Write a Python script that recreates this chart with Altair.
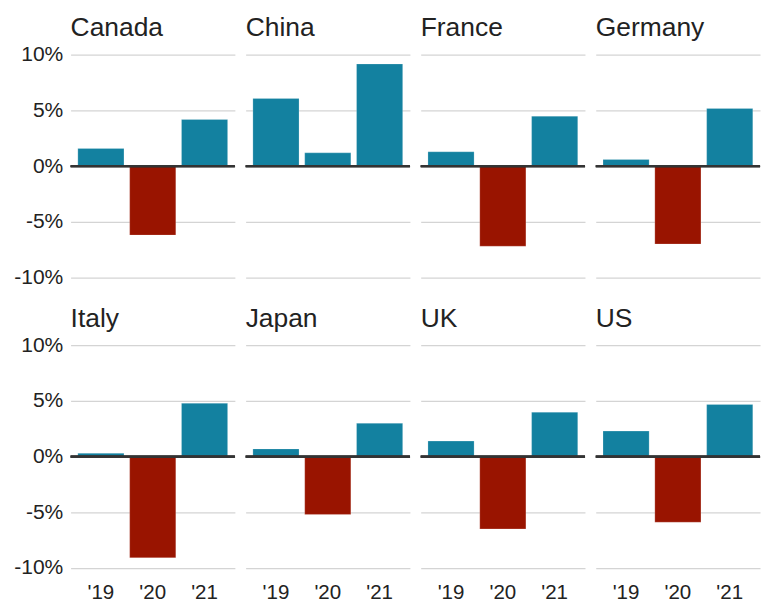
import altair as alt
import pandas as pd

countries = ["Canada", "China", "France", "Germany", "Italy", "Japan", "UK", "US"]
years = ["'19", "'20", "'21"]
canada = [1.6, -6.2, 4.2]
china = [6.1, 1.2, 9.2]
france = [1.3, -7.2, 4.5]
germany = [0.6, -7.0, 5.2]
italy = [0.3, -9.1, 4.8]
japan = [0.7, -5.2, 3.0]
uk = [1.4, -6.5, 4.0]
us = [2.3, -5.9, 4.7]

series = [canada, china, france, germany, italy, japan, uk, us]
rows = []
for c, vals in zip(countries, series):
    for y, v in zip(years, vals):
        rows.append({"country": c, "year": y, "growth": v})
df = pd.DataFrame(rows)

BLUE = "#1381a0"
RED = "#991400"

bars = alt.Chart().mark_bar(stroke="white", strokeWidth=0.6, strokeOpacity=0.35).encode(
    x=alt.X("year:N", sort=years,
            scale=alt.Scale(paddingInner=0.11, paddingOuter=0.14),
            axis=alt.Axis(title=None, labelAngle=0, domain=False, ticks=False,
                          labelFontSize=21, labelPadding=3, labelColor="#222")),
    y=alt.Y("growth:Q",
            scale=alt.Scale(domain=[-11, 11], nice=False, zero=False),
            axis=alt.Axis(title=None, values=[-10, -5, 0, 5, 10], domain=False, ticks=False,
                          labelExpr="datum.value + '%'", labelFontSize=21.5, labelPadding=6,
                          labelColor="#222", gridColor="#d4d4d4", gridWidth=1.2)),
    color=alt.condition(alt.datum.growth < 0, alt.value(RED), alt.value(BLUE)),
)

zero = alt.Chart().mark_rule(color="#333333", strokeWidth=2.2).encode(y=alt.datum(0))

chart = alt.layer(bars, zero, data=df).properties(width=168, height=250).facet(
    facet=alt.Facet("country:N", sort=countries,
                    header=alt.Header(title=None, labelFontSize=27, labelAnchor="start",
                                      labelAlign="left", labelPadding=2, labelColor="#222",
                                      labelExpr="'\u2009' + datum.label")),
    columns=4,
    spacing={"row": 17, "column": 7},
).properties(padding={"left": 5, "top": 0, "right": 0, "bottom": 0}).configure(
    font="Liberation Sans"
).configure_view(stroke=None)

chart.save("out.html", embed_options={"renderer": "svg", "actions": False})
